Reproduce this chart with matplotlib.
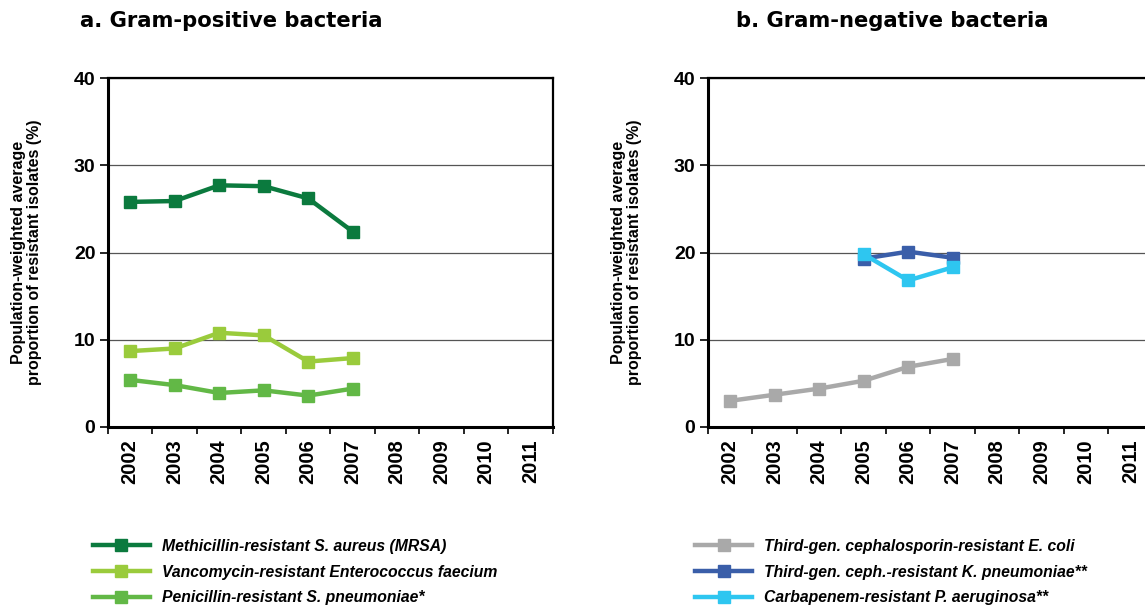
import matplotlib.pyplot as plt
from matplotlib import rcParams

rcParams.update({
    "font.family": ["Liberation Sans", "DejaVu Sans"],
    "font.size": 14,
})

years = ['2002', '2003', '2004', '2005', '2006', '2007', '2008', '2009', '2010', '2011']

# Gram-positive (2002-2007)
mrsa = [25.8, 25.9, 27.7, 27.6, 26.2, 22.4]
vre = [8.7, 9.0, 10.8, 10.5, 7.5, 7.9]
prsp = [5.4, 4.8, 3.9, 4.2, 3.6, 4.4]

# Gram-negative
ecoli = [3.0, 3.7, 4.4, 5.3, 6.9, 7.8]     # 2002-2007
kpneu = [19.3, 20.1, 19.4]                  # 2005-2007
paer = [19.8, 16.8, 18.3]                   # 2005-2007

left_series = [
    (mrsa, 0, '#0b7a3e', 'Methicillin-resistant S. aureus (MRSA)'),
    (vre, 0, '#9acb3c', 'Vancomycin-resistant Enterococcus faecium'),
    (prsp, 0, '#62b846', 'Penicillin-resistant S. pneumoniae*'),
]
right_series = [
    (ecoli, 0, '#a9a9a9', 'Third-gen. cephalosporin-resistant E. coli'),
    (kpneu, 3, '#3a5ea9', 'Third-gen. ceph.-resistant K. pneumoniae**'),
    (paer, 3, '#2ec6f0', 'Carbapenem-resistant P. aeruginosa**'),
]

fig = plt.figure(figsize=(11.45, 6.08), dpi=100)
ax1 = fig.add_axes([0.0943, 0.2977, 0.3886, 0.574])
ax2 = fig.add_axes([0.6183, 0.2977, 0.3886, 0.574])

ylab = 'Population-weighted average\nproportion of resistant isolates (%)'

for ax, series, title, tx, lx in [(ax1, left_series, 'a. Gram-positive bacteria', 0.07, 0.069),
                                  (ax2, right_series, 'b. Gram-negative bacteria', 0.643, 0.595)]:
    handles = []
    for vals, start, col, lab in series:
        xs = [start + i + 0.5 for i in range(len(vals))]
        h, = ax.plot(xs, vals, color=col, lw=3.2, marker='s', markersize=8, label=lab, zorder=3)
        handles.append(h)
    ax.set_xlim(0, 10)
    ax.set_ylim(0, 40)
    ax.set_yticks([0, 10, 20, 30, 40])
    ax.set_yticklabels(['0', '10', '20', '30', '40'], fontweight='bold', fontsize=14)
    ax.set_xticks([i + 0.5 for i in range(10)])
    ax.set_xticklabels(years, rotation=90, fontweight='bold', fontsize=14.5)
    ax.set_xticks(range(11), minor=True)
    ax.tick_params(axis='x', which='major', length=0, pad=9)
    ax.tick_params(axis='x', which='minor', length=5, width=1.2, direction='out')
    ax.tick_params(axis='y', length=6, width=1.2, direction='out', pad=3)
    ax.grid(axis='y', color='#555555', lw=0.9)
    ax.set_axisbelow(True)
    for s in ax.spines.values():
        s.set_linewidth(1.6)
        s.set_color('black')
    ax.spines['left'].set_linewidth(2.2)
    ax.spines['bottom'].set_linewidth(2.2)
    ax.set_ylabel(ylab, fontsize=11.5, fontweight='bold', labelpad=23, linespacing=1.05)
    fig.text(tx, 0.966, title, fontsize=15.2, fontweight='bold', ha='left', va='center',
             family='DejaVu Sans')
    fig.legend(handles=handles, loc='upper left', bbox_to_anchor=(lx, 0.137),
               frameon=False, handlelength=3.6, handletextpad=0.8, labelspacing=0.68,
               borderpad=0.4, prop={'size': 11.3, 'weight': 'bold', 'style': 'italic'},
               bbox_transform=fig.transFigure)

fig.savefig('out.png', dpi=100)
